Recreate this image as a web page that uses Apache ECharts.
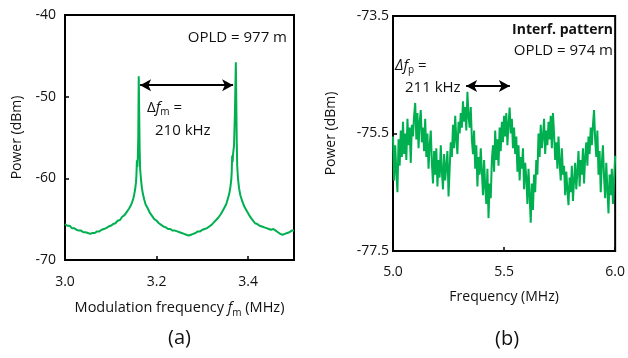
<!DOCTYPE html>
<html>
<head>
<meta charset="utf-8" />
<script src="https://cdn.jsdelivr.net/npm/echarts@6/dist/echarts.min.js"></script>
<style>
  html, body { margin: 0; padding: 0; background: #fff; }
  #chart { width: 628px; height: 358px; }
</style>
</head>
<body>
<div id="chart"></div>
<script>
// (a) 调制频率扫描：频率 (MHz) / 功率 (dBm)
const modFreq = [
  3.000, 3.005, 3.010, 3.015, 3.020, 3.025, 3.030, 3.035, 3.040, 3.045,
  3.050, 3.055, 3.060, 3.065, 3.070, 3.075, 3.080, 3.085, 3.090, 3.095,
  3.100, 3.105, 3.110, 3.115, 3.120, 3.125, 3.130, 3.135, 3.140, 3.143,
  3.146, 3.149, 3.151, 3.153, 3.155, 3.156, 3.157, 3.158, 3.159, 3.160,
  3.161, 3.162, 3.163, 3.164, 3.166, 3.168, 3.170, 3.173, 3.176, 3.180,
  3.185, 3.190, 3.195, 3.200, 3.205, 3.210, 3.215, 3.220, 3.225, 3.230,
  3.235, 3.240, 3.245, 3.250, 3.255, 3.260, 3.265, 3.270, 3.275, 3.280,
  3.285, 3.290, 3.295, 3.300, 3.305, 3.310, 3.315, 3.320, 3.325, 3.330,
  3.335, 3.340, 3.345, 3.350, 3.353, 3.356, 3.359, 3.361, 3.363, 3.364,
  3.365, 3.366, 3.367, 3.369, 3.371, 3.373, 3.374, 3.375, 3.376, 3.378,
  3.380, 3.383, 3.387, 3.391, 3.396, 3.402, 3.408, 3.415, 3.420, 3.425,
  3.430, 3.435, 3.440, 3.445, 3.450, 3.455, 3.460, 3.465, 3.470, 3.475,
  3.480, 3.485, 3.490, 3.495, 3.500
];
const modPower = [
  -65.6, -65.8, -65.8, -66.1, -66.1, -66.3, -66.4, -66.4, -66.6, -66.6,
  -66.7, -66.8, -66.7, -66.7, -66.5, -66.5, -66.3, -66.2, -66.1, -65.9,
  -65.8, -65.6, -65.5, -65.2, -65.1, -64.7, -64.5, -64.1, -63.7, -63.4,
  -63.0, -62.5, -62.0, -61.4, -60.5, -59.6, -57.8, -58.6, -57.5, -55.0,
  -47.5, -52.0, -56.5, -58.8, -60.2, -61.2, -61.9, -62.6, -63.2, -63.6,
  -64.2, -64.6, -65.0, -65.2, -65.5, -65.7, -65.9, -66.0, -66.2, -66.2,
  -66.4, -66.4, -66.5, -66.6, -66.7, -66.8, -66.9, -67.0, -66.9, -66.8,
  -66.7, -66.5, -66.5, -66.3, -66.2, -66.1, -65.9, -65.7, -65.4, -65.1,
  -64.8, -64.4, -63.9, -63.4, -63.0, -62.4, -61.8, -61.1, -60.2, -59.3,
  -57.2, -58.0, -57.0, -56.0, -52.0, -45.8, -50.5, -55.5, -58.5, -60.2,
  -61.2, -62.1, -62.8, -63.4, -63.9, -64.5, -65.0, -65.5, -65.6, -65.8,
  -65.9, -66.0, -66.1, -66.2, -66.3, -66.2, -66.4, -66.6, -66.8, -66.9,
  -66.8, -66.7, -66.6, -66.4, -66.4
];

// (b) 干涉图样：起始频率 + 步长，及功率 (dBm)
const pattFreqStart = 5.0;
const pattFreqStep = 0.005;
const pattPower = [
  -75.55, -76.30, -75.70, -76.15, -76.50, -75.60, -76.05, -75.45, -75.90, -75.30,
  -75.85, -75.50, -75.95, -75.25, -75.70, -75.40, -76.00, -75.35, -75.55, -75.20,
  -74.98, -75.60, -75.15, -75.75, -75.30, -75.10, -75.65, -75.40, -75.80, -75.25,
  -75.90, -75.50, -76.10, -75.70, -75.45, -76.00, -76.35, -75.80, -76.20, -75.75,
  -76.40, -75.95, -76.25, -75.70, -76.15, -76.45, -75.85, -76.30, -76.05, -75.80,
  -76.57, -76.10, -75.65, -75.90, -75.35, -75.75, -75.20, -75.60, -75.85, -75.30,
  -75.50, -75.15, -75.40, -74.95, -75.30, -75.05, -75.45, -74.79, -75.20, -75.40,
  -75.05, -75.60, -75.85, -75.45, -76.10, -75.70, -76.40, -75.90, -76.20, -75.75,
  -76.15, -76.55, -75.95, -76.40, -76.70, -76.10, -76.94, -76.35, -76.60, -75.95,
  -75.70, -76.15, -75.45, -75.95, -75.60, -76.05, -75.40, -75.80, -75.30, -75.65,
  -75.20, -75.55, -75.15, -75.70, -75.35, -75.06, -75.50, -75.25, -75.75, -75.40,
  -75.85, -75.55, -76.15, -75.70, -76.30, -75.90, -76.10, -75.75, -76.45, -76.00,
  -76.25, -76.70, -76.10, -76.55, -77.02, -76.35, -76.80, -76.20, -76.50, -75.95,
  -76.20, -75.50, -75.90, -75.35, -75.75, -75.55, -75.25, -75.85, -75.45, -75.70,
  -75.30, -75.60, -75.20, -75.75, -75.15, -75.50, -75.95, -75.65, -76.10, -75.55,
  -76.00, -76.30, -75.75, -76.20, -76.05, -76.55, -76.15, -76.45, -76.72, -76.25,
  -76.50, -76.05, -76.65, -76.30, -76.00, -76.45, -76.15, -75.80, -76.40, -75.95,
  -76.20, -75.75, -76.35, -75.90, -75.65, -76.05, -75.55, -75.85, -75.40, -75.70,
  -75.35, -75.10, -75.60, -75.90, -75.45, -76.20, -75.80, -76.50, -76.00, -75.70,
  -76.25, -76.60, -76.00, -76.45, -76.86, -76.20, -76.55, -76.10, -76.70, -76.30,
  -75.88
];

// 坐标轴刻度
const modTicks = { min: 3.0, max: 3.5, interval: 0.2 };
const modPowerTicks = { min: -70, max: -40, interval: 10 };
const pattTicks = { min: 5.0, max: 6.0, interval: 0.5 };
const pattPowerTicks = { min: -77.5, max: -73.5, interval: 2 };

// 箭头标注 (数据坐标)
const modArrow = [[3.164, -48.6], [3.367, -48.6]];
const pattArrow = [[5.329, -74.69], [5.526, -74.69]];

const GREEN = '#00b050';
const TEXT = '#111';
const FONT = '"Open Sans", "Noto Sans", sans-serif';

const modData = modFreq.map((f, i) => [f, modPower[i]]);
const pattData = pattPower.map((p, i) => [+(pattFreqStart + i * pattFreqStep).toFixed(3), p]);

/**
 * 通用坐标轴样式
 */
const axisBase = {
  axisLine: { show: true, onZero: false, lineStyle: { color: '#000', width: 2 } },
  axisTick: { show: true, inside: true, length: 4, lineStyle: { color: '#000', width: 1.5 } },
  splitLine: { show: false },
  axisLabel: { color: TEXT, fontSize: 14, fontFamily: FONT },
  nameTextStyle: { color: TEXT, fontSize: 14, fontFamily: FONT },
  nameLocation: 'middle',
};

// 斜体 + 下标的富文本样式
const subRich = (size, key) => ({
  n: { fontSize: size, fontFamily: FONT, [key]: TEXT, lineHeight: 20 },
  i: { fontStyle: 'italic', fontSize: size, fontFamily: FONT, [key]: TEXT, lineHeight: 20 },
  s: { fontSize: 10, fontFamily: FONT, [key]: TEXT, lineHeight: 20, verticalAlign: 'bottom' },
});

const arrowLine = (pts) => ({
  silent: true,
  symbol: ['arrow', 'arrow'],
  symbolSize: [9, 11],
  label: { show: false },
  lineStyle: { color: '#000', width: 2, type: 'solid' },
  data: [[{ coord: pts[0] }, { coord: pts[1] }]],
});

const option = {
  animation: false,
  backgroundColor: '#fff',
  grid: [
    { left: 65, right: 334, top: 15, bottom: 98, show: true, borderColor: '#000', borderWidth: 2 },
    { left: 393, right: 7, top: 16, bottom: 107, show: true, borderColor: '#000', borderWidth: 2 },
  ],
  xAxis: [
    {
      ...axisBase,
      gridIndex: 0,
      type: 'value',
      ...modTicks,
      name: '{n|Modulation frequency }{i|f}{s|m}{n| (MHz)}',
      nameGap: 38,
      nameTextStyle: { ...axisBase.nameTextStyle, rich: subRich(14.5, 'color') },
      axisLabel: { ...axisBase.axisLabel, margin: 15, showMaxLabel: false, formatter: (v) => v.toFixed(1) },
    },
    {
      ...axisBase,
      gridIndex: 1,
      type: 'value',
      ...pattTicks,
      name: 'Frequency (MHz)',
      nameGap: 39,
      axisLabel: { ...axisBase.axisLabel, margin: 14, formatter: (v) => v.toFixed(1) },
    },
  ],
  yAxis: [
    {
      ...axisBase,
      gridIndex: 0,
      type: 'value',
      ...modPowerTicks,
      name: 'Power (dBm)',
      nameGap: 41,
      axisLabel: { ...axisBase.axisLabel, margin: 9 },
    },
    {
      ...axisBase,
      gridIndex: 1,
      type: 'value',
      ...pattPowerTicks,
      name: 'Power (dBm)',
      nameGap: 55,
      axisLabel: { ...axisBase.axisLabel, margin: 4, formatter: (v) => v.toFixed(1) },
    },
  ],
  series: [
    {
      type: 'line',
      xAxisIndex: 0,
      yAxisIndex: 0,
      data: modData,
      showSymbol: false,
      lineStyle: { color: GREEN, width: 2 },
      markLine: arrowLine(modArrow),
    },
    {
      type: 'line',
      xAxisIndex: 1,
      yAxisIndex: 1,
      data: pattData,
      showSymbol: false,
      lineStyle: { color: GREEN, width: 2 },
      markLine: arrowLine(pattArrow),
    },
  ],
  graphic: [
    // (a) 标注
    {
      type: 'text', right: 341, top: 30,
      style: { text: 'OPLD = 977 m', fontSize: 15, fontFamily: FONT, fill: TEXT },
    },
    {
      type: 'text', left: 147, top: 100,
      style: { text: '{n|Δ}{i|f}{s|m}{n| =}', fontSize: 15, fontFamily: FONT, fill: TEXT, rich: subRich(15, 'fill') },
    },
    {
      type: 'text', left: 155, top: 123,
      style: { text: '210 kHz', fontSize: 15, fontFamily: FONT, fill: TEXT },
    },
    // (b) 标注
    {
      type: 'text', right: 15, top: 23,
      style: { text: 'Interf. pattern', fontSize: 14, fontWeight: 'bold', fontFamily: FONT, fill: TEXT },
    },
    {
      type: 'text', right: 15, top: 43,
      style: { text: 'OPLD = 974 m', fontSize: 15, fontFamily: FONT, fill: TEXT },
    },
    {
      type: 'text', left: 395, top: 58,
      style: { text: '{i|Δf}{s|p}{n| =}', fontSize: 15, fontFamily: FONT, fill: TEXT, rich: subRich(15, 'fill') },
    },
    {
      type: 'text', left: 405, top: 80,
      style: { text: '211 kHz', fontSize: 15, fontFamily: FONT, fill: TEXT },
    },
    // 子图编号
    {
      type: 'text', left: 168, top: 328,
      style: { text: '(a)', fontSize: 20, fontFamily: FONT, fill: TEXT },
    },
    {
      type: 'text', left: 495, top: 329,
      style: { text: '(b)', fontSize: 20, fontFamily: FONT, fill: TEXT },
    },
  ],
};

const chart = echarts.init(document.getElementById('chart'), null, { renderer: 'canvas' });
chart.setOption(option);
</script>
</body>
</html>
